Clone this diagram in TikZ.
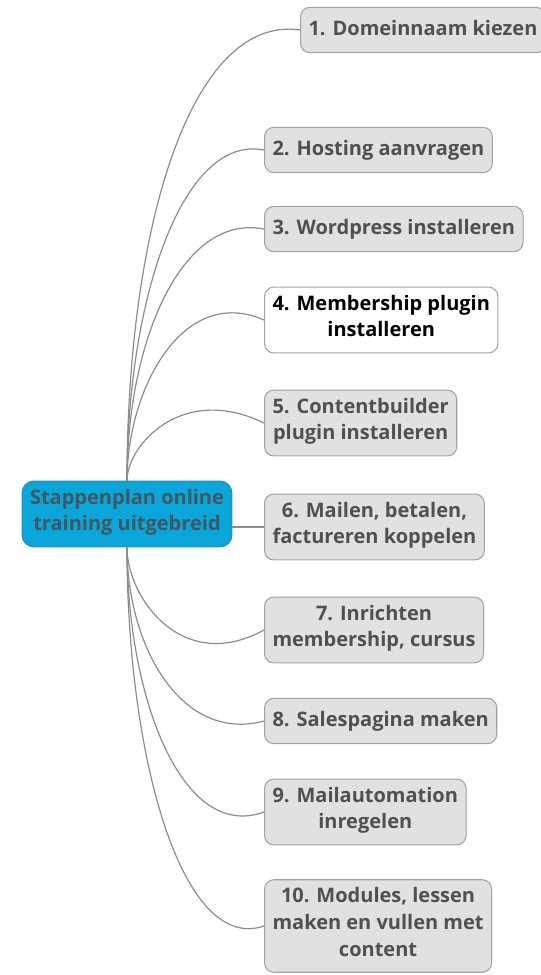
\documentclass[tikz,border=0pt]{standalone}
\usepackage{fontspec}
\setmainfont{Open Sans}
\usepackage{tikz}
\usetikzlibrary{positioning}
\definecolor{boxfill}{HTML}{E1E1E1}
\definecolor{boxline}{HTML}{A3A3A3}
\definecolor{boxtext}{HTML}{505050}
\definecolor{corefill}{HTML}{0AA5D9}
\definecolor{coreline}{HTML}{2E8DB0}
\definecolor{coretext}{HTML}{3F5862}
\definecolor{linkgray}{HTML}{8C8C8C}

\begin{document}
\begin{tikzpicture}[
  x=0.75pt, y=-0.75pt,
  font=\fontsize{15}{20}\selectfont\bfseries,
  topic/.style={draw=boxline, fill=boxfill, text=boxtext, rounded corners=7pt, line width=0.8pt,
    inner xsep=6pt, inner ysep=6pt, minimum height=34pt, align=center, anchor=west,
    execute at begin node=\strut, execute at end node=\strut},
  current/.style={topic, fill=white, text=black},
  core/.style={draw=coreline, fill=corefill, text=coretext, rounded corners=9pt, line width=0.8pt,
    inner xsep=6pt, inner ysep=6pt, align=center,
    execute at begin node=\strut, execute at end node=\strut},
  link/.style={draw=linkgray, line width=0.9pt}
]
\useasboundingbox (0,0) rectangle (540,975);

% Central topic
\node[core] (core) at (127,514) {Stappenplan online\\training uitgebreid};

% Steps
\node[topic] (s1) at (300,30) {1. Domeinnaam kiezen};
\node[topic] (s2) at (264,150) {2. Hosting aanvragen};
\node[topic] (s3) at (264,229) {3. Wordpress installeren};
\node[current] (s4) at (264,320) {4. Membership plugin\\installeren};
\node[topic] (s5) at (264,423) {5. Contentbuilder\\plugin installeren};
\node[topic] (s6) at (264,527) {6. Mailen, betalen,\\factureren koppelen};
\node[topic] (s7) at (264,630) {7. Inrichten\\membership, cursus};
\node[topic] (s8) at (264,721) {8. Salespagina maken};
\node[topic] (s9) at (264,812) {9. Mailautomation\\inregelen};
\node[topic] (s10) at (264,926) {10. Modules, lessen\\maken en vullen met\\content};

% Links up
\draw[link] (core.north) .. controls +(0,-250) and +(-110,-16) .. (s1.west);
\draw[link] (core.north) .. controls +(0,-180) and +(-82,-16) .. (s2.west);
\draw[link] (core.north) .. controls +(0,-140) and +(-82,-16) .. (s3.west);
\draw[link] (core.north) .. controls +(0,-90) and +(-82,-36) .. (s4.west);
\draw[link] (core.north) .. controls +(0,-35) and +(-82,-40) .. (s5.west);
% Link across
\draw[link] (core.east |- s6.west) -- (s6.west);
% Links down
\draw[link] (core.south) .. controls +(0,50) and +(-82,45) .. (s7.west);
\draw[link] (core.south) .. controls +(0,100) and +(-82,22) .. (s8.west);
\draw[link] (core.south) .. controls +(0,150) and +(-82,30) .. (s9.west);
\draw[link] (core.south) .. controls +(0,210) and +(-82,28) .. (s10.west);

\end{tikzpicture}
\end{document}
